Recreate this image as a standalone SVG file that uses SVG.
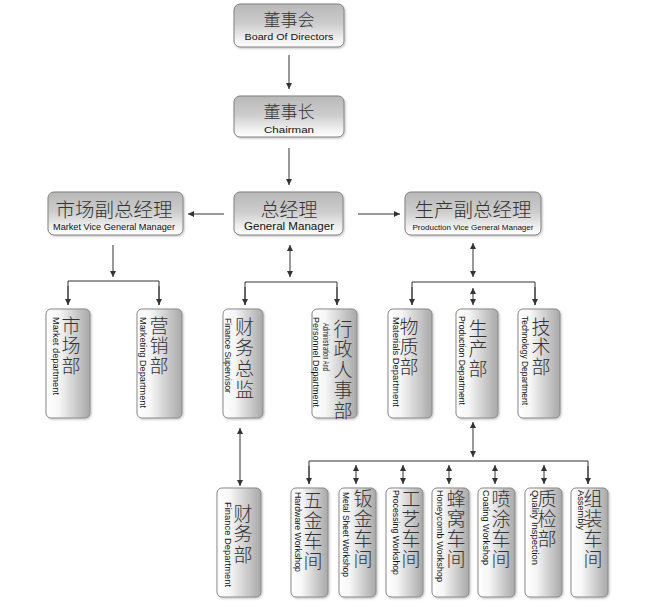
<svg xmlns="http://www.w3.org/2000/svg" width="647" height="615" viewBox="0 0 647 615">
<defs>
<linearGradient id="gh" x1="0" y1="0" x2="0" y2="1">
<stop offset="0" stop-color="#b8b8b8"/>
<stop offset="0.45" stop-color="#cccccc"/>
<stop offset="0.8" stop-color="#eeeeee"/>
<stop offset="1" stop-color="#ffffff"/>
</linearGradient>
<linearGradient id="gv" x1="0" y1="0" x2="1" y2="0">
<stop offset="0" stop-color="#ffffff"/>
<stop offset="0.3" stop-color="#f6f6f6"/>
<stop offset="0.65" stop-color="#cfcfcf"/>
<stop offset="1" stop-color="#a8a8a8"/>
</linearGradient>
<marker id="ah" viewBox="0 0 8 8" refX="8" refY="4" markerWidth="6" markerHeight="6" orient="auto-start-reverse" markerUnits="userSpaceOnUse">
<path d="M0,0 L8,4 L0,8 z" fill="#333"/>
</marker>
<filter id="sh" x="-10%" y="-10%" width="130%" height="130%">
<feDropShadow dx="1" dy="1" stdDeviation="1" flood-color="#000" flood-opacity="0.25"/>
</filter>
</defs>
<style>
.bh{fill:url(#gh);stroke:#808080;stroke-width:1;filter:url(#sh)}
.bv{fill:url(#gv);stroke:#8a8a8a;stroke-width:1;filter:url(#sh)}
.cn{font-family:"Noto Sans CJK SC","Noto Sans",sans-serif;font-weight:300;fill:#333;text-anchor:middle}
.cv{font-family:"Noto Sans CJK SC","Noto Sans",sans-serif;font-weight:300;fill:#333;font-size:19px;writing-mode:vertical-rl;text-anchor:start;letter-spacing:1px}
.en{font-family:"Liberation Sans",Arial,sans-serif;fill:#111;text-anchor:middle}
.ev{font-family:"Liberation Sans",Arial,sans-serif;fill:#111;font-size:8.5px}
.ln{fill:none;stroke:#333;stroke-width:1}
.a1{marker-end:url(#ah)}
.a2{marker-start:url(#ah);marker-end:url(#ah)}
</style>

<g id="connectors">
<path class="ln a1" d="M289,55 V89"/>
<path class="ln a1" d="M289,148 V185"/>
<path class="ln a1" d="M224,214 H188"/>
<path class="ln a1" d="M358,214 H400"/>
<path class="ln a1" d="M113,245 V277"/>
<path class="ln" d="M68,305 V281 H159 V305"/>
<path class="ln a1" d="M68,286 V305"/>
<path class="ln a1" d="M159,286 V305"/>
<path class="ln a2" d="M290,245 V277"/>
<path class="ln" d="M245,305 V282 H337 V305"/>
<path class="ln a1" d="M245,287 V305"/>
<path class="ln a1" d="M337,287 V305"/>
<path class="ln a2" d="M473,243 V277"/>
<path class="ln" d="M412,305 V282 H535 V305"/>
<path class="ln a1" d="M412,287 V305"/>
<path class="ln a1" d="M535,287 V305"/>
<path class="ln a2" d="M473,288 V305"/>
<path class="ln a2" d="M240,428 V486"/>
<path class="ln a2" d="M473,422 V457"/>
<path class="ln" d="M309,484 V461 H588 V484"/>
<path class="ln a1" d="M309,466 V484"/>
<path class="ln a1" d="M588,466 V484"/>
<path class="ln a2" d="M356,465 V484"/>
<path class="ln a2" d="M403,465 V484"/>
<path class="ln a2" d="M449,465 V484"/>
<path class="ln a2" d="M495,465 V484"/>
<path class="ln a2" d="M544,465 V484"/>
</g>

<g id="board">
<rect class="bh" x="234" y="4" width="110" height="43" rx="6"/>
<text class="cn" x="289" y="26" font-size="17">董事会</text>
<text class="en" x="289" y="40" font-size="9.5" textLength="89" lengthAdjust="spacingAndGlyphs">Board Of Directors</text>
</g>
<g id="chairman">
<rect class="bh" x="234" y="96" width="110" height="41" rx="6"/>
<text class="cn" x="289" y="118" font-size="17">董事长</text>
<text class="en" x="289" y="133" font-size="9.5" textLength="50" lengthAdjust="spacingAndGlyphs">Chairman</text>
</g>
<g id="market-vp">
<rect class="bh" x="48" y="192" width="135" height="43" rx="6"/>
<text class="cn" x="114" y="217" font-size="19" textLength="117" lengthAdjust="spacingAndGlyphs">市场副总经理</text>
<text class="en" x="114" y="230" font-size="8.5" textLength="122" lengthAdjust="spacingAndGlyphs">Market Vice General Manager</text>
</g>
<g id="general-manager">
<rect class="bh" x="234" y="192" width="109" height="43" rx="6"/>
<text class="cn" x="289" y="217" font-size="19">总经理</text>
<text class="en" x="289" y="230" font-size="10" textLength="90" lengthAdjust="spacingAndGlyphs">General Manager</text>
</g>
<g id="production-vp">
<rect class="bh" x="405" y="192" width="136" height="43" rx="6"/>
<text class="cn" x="473" y="217" font-size="19" textLength="117" lengthAdjust="spacingAndGlyphs">生产副总经理</text>
<text class="en" x="473" y="230" font-size="8" textLength="121" lengthAdjust="spacingAndGlyphs">Production Vice General Manager</text>
</g>

<g id="market-dept">
<rect class="bv" x="46" y="309" width="44" height="109" rx="5"/>
<text class="cv" x="71" y="316">市场部</text>
<text class="ev" transform="translate(52.5,317) rotate(90)" textLength="78" lengthAdjust="spacingAndGlyphs">Market department</text>
</g>
<g id="marketing-dept">
<rect class="bv" x="137" y="309" width="45" height="109" rx="5"/>
<text class="cv" x="159" y="316">营销部</text>
<text class="ev" transform="translate(140,317) rotate(90)" textLength="91" lengthAdjust="spacingAndGlyphs">Marketing Department</text>
</g>
<g id="finance-supervisor">
<rect class="bv" x="223" y="309" width="40" height="109" rx="5"/>
<text class="cv" x="244.5" y="317" style="letter-spacing:2px">财务总监</text>
<text class="ev" transform="translate(225,318) rotate(90)" textLength="75" lengthAdjust="spacingAndGlyphs">Finance Supervisor</text>
</g>
<g id="admin-dept">
<rect class="bv" x="312" y="309" width="45" height="109" rx="5"/>
<text class="cv" x="343" y="319" style="letter-spacing:1.5px">行政人事部</text>
<text class="ev" transform="translate(323,323) rotate(90)" textLength="48" lengthAdjust="spacingAndGlyphs">Administration And</text>
<text class="ev" transform="translate(313,317) rotate(90)" textLength="90" lengthAdjust="spacingAndGlyphs">Personnel Department</text>
</g>
<g id="materials-dept">
<rect class="bv" x="388" y="309" width="44" height="109" rx="5"/>
<text class="cv" x="409" y="317">物质部</text>
<text class="ev" transform="translate(393,317) rotate(90)" textLength="90" lengthAdjust="spacingAndGlyphs">Materials Department</text>
</g>
<g id="production-dept">
<rect class="bv" x="456" y="309" width="42" height="109" rx="5"/>
<text class="cv" x="478" y="319">生产部</text>
<text class="ev" transform="translate(459,316) rotate(90)" textLength="89" lengthAdjust="spacingAndGlyphs">Production Department</text>
</g>
<g id="technology-dept">
<rect class="bv" x="518" y="309" width="42" height="109" rx="5"/>
<text class="cv" x="541" y="317">技术部</text>
<text class="ev" transform="translate(522,316) rotate(90)" textLength="89" lengthAdjust="spacingAndGlyphs">Technology Department</text>
</g>

<g id="finance-dept">
<rect class="bv" x="217" y="488" width="44" height="109" rx="5"/>
<text class="cv" x="243" y="504" style="letter-spacing:1.5px">财务部</text>
<text class="ev" transform="translate(225,502) rotate(90)" textLength="85" lengthAdjust="spacingAndGlyphs">Finance Department</text>
</g>
<g id="hardware-ws">
<rect class="bv" x="291" y="488" width="37" height="109" rx="5"/>
<text class="cv" x="313" y="491">五金车间</text>
<text class="ev" transform="translate(295,492) rotate(90)" textLength="80" lengthAdjust="spacingAndGlyphs">Hardware Workshop</text>
</g>
<g id="metal-sheet-ws">
<rect class="bv" x="339" y="488" width="37" height="109" rx="5"/>
<text class="cv" x="363" y="489">钣金车间</text>
<text class="ev" transform="translate(343,492) rotate(90)" textLength="85" lengthAdjust="spacingAndGlyphs">Metal Sheet Workshop</text>
</g>
<g id="processing-ws">
<rect class="bv" x="386" y="488" width="37" height="109" rx="5"/>
<text class="cv" x="411" y="489">工艺车间</text>
<text class="ev" transform="translate(392.5,490) rotate(90)" textLength="85" lengthAdjust="spacingAndGlyphs">Processing Workshop</text>
</g>
<g id="honeycomb-ws">
<rect class="bv" x="432" y="488" width="37" height="109" rx="5"/>
<text class="cv" x="456" y="489">蜂窝车间</text>
<text class="ev" transform="translate(437,490) rotate(90)" textLength="92" lengthAdjust="spacingAndGlyphs">Honeycomb Workshop</text>
</g>
<g id="coating-ws">
<rect class="bv" x="478" y="488" width="37" height="109" rx="5"/>
<text class="cv" x="501" y="489">喷涂车间</text>
<text class="ev" transform="translate(483,490) rotate(90)" textLength="75" lengthAdjust="spacingAndGlyphs">Coating Workshop</text>
</g>
<g id="quality-dept">
<rect class="bv" x="525" y="488" width="37" height="109" rx="5"/>
<text class="cv" x="547" y="489">质检部</text>
<text class="ev" transform="translate(532,490) rotate(90)" textLength="75" lengthAdjust="spacingAndGlyphs">Quality Inspection</text>
</g>
<g id="assembly-ws">
<rect class="bv" x="571" y="488" width="37" height="109" rx="5"/>
<text class="cv" x="593" y="489">组装车间</text>
<text class="ev" transform="translate(578,490) rotate(90)" textLength="40" lengthAdjust="spacingAndGlyphs">Assembly</text>
</g>
</svg>
